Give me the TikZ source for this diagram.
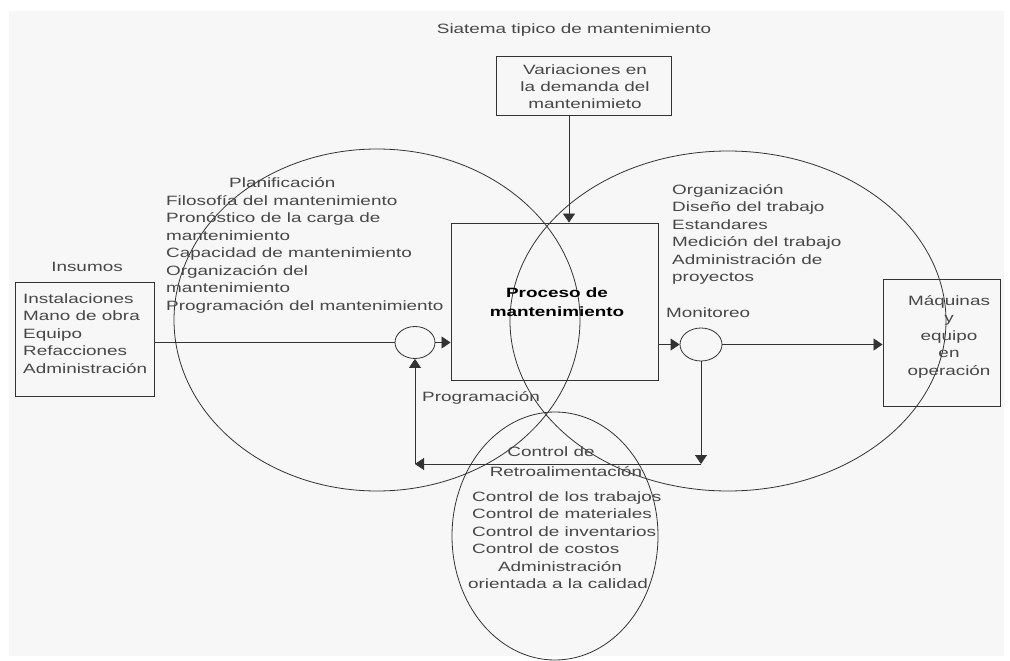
\documentclass[tikz,border=0pt]{standalone}
\usepackage{fontspec}
\setmainfont{Liberation Sans}[FakeStretch=1.4]
\usetikzlibrary{arrows.meta,shapes.geometric}
\definecolor{bgc}{HTML}{F7F7F7}
\definecolor{linec}{HTML}{333333}
\definecolor{txtc}{HTML}{474747}
\begin{document}
\begin{tikzpicture}[x=1pt,y=-1pt,
  ln/.style={draw=linec, line width=0.8pt},
  arr/.style={ln, -{Triangle[length=9pt,width=12pt]}},
  txt/.style={text=txtc, inner sep=0pt, font=\fontsize{13.5pt}{17.5pt}\selectfont},
  boxn/.style={draw=linec, line width=0.9pt, inner sep=0pt},
  ring/.style={ellipse, draw=linec, line width=0.8pt, inner sep=0pt}]
% page and panel
\fill[white] (0,0) rectangle (1010,661);
\fill[bgc] (9,11) rectangle (1004,656);
\useasboundingbox (0,0) rectangle (1010,661);

% the three overlapping areas
\draw[ln] (377,320) ellipse [x radius=203pt, y radius=171pt];
\draw[ln] (728,321) ellipse [x radius=218pt, y radius=170pt];
\draw[ln] (555,536) ellipse [x radius=103pt, y radius=124pt];

% title
\node[txt, anchor=base] (title) at (574,34) {Siatema tipico de mantenimiento};

% demand variations
\node[boxn, minimum width=175pt, minimum height=59pt] (var) at (583.5,85.5) {};
\foreach \t/\yy [count=\i] in {Variaciones en/75, la demanda del/92, mantenimieto/108}
  \node[txt, anchor=base] (var\i) at (585,\yy) {\t};

% inputs
\node[txt, anchor=base] (inslbl) at (87,271) {Insumos};
\node[boxn, minimum width=139pt, minimum height=114pt] (ins) at (84.5,339) {};
\foreach \t [count=\i] in {Instalaciones, Mano de obra, Equipo, Refacciones, Administración}
  \node[txt, anchor=base west] (ins\i) at (23,{285.5+17.5*\i}) {\t};

% planning
\node[txt, anchor=base west] (plan0) at (229,187) {Planificación};
\foreach \t [count=\i] in {Filosofía del mantenimiento, Pronóstico de la carga de, mantenimiento,
    Capacidad de mantenimiento, Organización del, mantenimiento, Programación del mantenimiento}
  \node[txt, anchor=base west] (plan\i) at (166,{187.5+17.5*\i}) {\t};

% organisation
\foreach \t [count=\i] in {Organización, Diseño del trabajo, Estandares, Medición del trabajo,
    Administración de, proyectos}
  \node[txt, anchor=base west] (org\i) at (672,{176.5+17.5*\i}) {\t};
\node[txt, anchor=base west] (monlbl) at (666,317.5) {Monitoreo};

% process
\node[boxn, minimum width=207pt, minimum height=157pt] (proc) at (554.5,301.5) {};
\node[txt, anchor=base, text=black, font=\bfseries\fontsize{13.5pt}{17.5pt}\selectfont] (proc1) at (557,297.5) {Proceso de};
\node[txt, anchor=base, text=black, font=\bfseries\fontsize{13.5pt}{17.5pt}\selectfont] (proc2) at (557,316) {mantenimiento};

% machines
\node[boxn, minimum width=117pt, minimum height=127pt] (maq) at (941.5,342.5) {};
\foreach \t [count=\i] in {Máquinas, y, equipo, en, operación}
  \node[txt, anchor=base] (maq\i) at (949,{287.5+17.5*\i}) {\t};

% summing points
\node[ring, minimum width=40pt, minimum height=32pt] (c1) at (415,342.5) {};
\node[ring, minimum width=42pt, minimum height=33pt] (c2) at (701,344.5) {};

% scheduling and feedback labels
\node[txt, anchor=base west] (prog) at (422,401.5) {Programación};
\node[txt, anchor=base] (ctl1) at (551,456.5) {Control de};
\node[txt, anchor=base] (ctl2) at (566,476) {Retroalimentación};
\foreach \t [count=\i] in {Control de los trabajos, Control de materiales, Control de inventarios, Control de costos}
  \node[txt, anchor=base west] (ctl\i b) at (472,{484.5+17.2*\i}) {\t};
\node[txt, anchor=base] (adm1) at (560,571.5) {Administración};
\node[txt, anchor=base] (adm2) at (558,588.5) {orientada a la calidad};

% flows
\coordinate (fbrow) at (0,464);
\draw[ln] (ins.east |- c1) -- (c1.west);
\draw[arr] (c1.east) -- (c1.east -| proc.west);
\draw[arr] ([xshift=-14.5pt]var.south) -- ([xshift=-14.5pt]var.south |- proc.north);
\draw[arr] (c2.west -| proc.east) -- (c2.west);
\draw[arr] (c2.east) -- (c2.east -| maq.west);
\draw[arr] (c2.south) -- (c2.south |- fbrow);
\draw[arr] (c2.south |- fbrow) -- (c1.south |- fbrow);
\draw[arr] (c1.south |- fbrow) -- (c1.south);
\end{tikzpicture}
\end{document}
